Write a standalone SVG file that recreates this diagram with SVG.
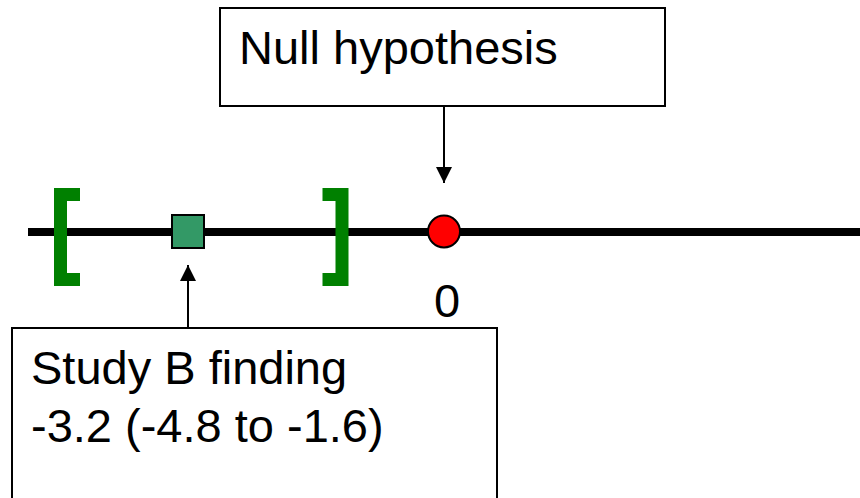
<svg xmlns="http://www.w3.org/2000/svg" width="860" height="498" viewBox="0 0 860 498">
  <defs>
    <style>
      .box { fill: #ffffff; stroke: #000000; stroke-width: 2; }
      .label { font-family: "Liberation Sans", Arial, sans-serif; font-size: 47px; fill: #000000; }
      .bracket { fill: none; stroke: #008000; stroke-width: 13; stroke-linecap: butt; }
      .conn { stroke: #000000; stroke-width: 2; fill: none; }
    </style>
    <marker id="arrowhead" viewBox="0 0 16 16" refX="16" refY="8" markerWidth="16" markerHeight="16" markerUnits="userSpaceOnUse" orient="auto">
      <path d="M0,0 L16,8 L0,16 Z" fill="#000000"/>
    </marker>
  </defs>
  <rect width="860" height="498" fill="#ffffff"/>

  <!-- number line -->
  <g id="axis">
    <line x1="28" y1="232" x2="860" y2="232" stroke="#000000" stroke-width="8"/>
  </g>

  <!-- confidence interval brackets -->
  <g id="ci-lower">
    <path class="bracket" d="M80,194.5 H60.5 V279.5 H80"/>
  </g>
  <g id="ci-upper">
    <path class="bracket" d="M322.5,194.5 H342 V279.5 H322.5"/>
  </g>

  <!-- point estimate -->
  <g id="estimate">
    <rect x="172" y="215" width="32" height="33" fill="#339966" stroke="#000000" stroke-width="2"/>
  </g>

  <!-- null value marker -->
  <g id="null-point">
    <circle cx="444" cy="231.5" r="16" fill="#ff0000" stroke="#000000" stroke-width="2"/>
    <text class="label" x="447" y="317" text-anchor="middle">0</text>
  </g>

  <!-- callout boxes -->
  <g id="null-hypothesis">
    <rect class="box" x="220" y="8" width="445" height="98"/>
    <text class="label" x="239" y="64">Null hypothesis</text>
  </g>
  <g id="study-b">
    <rect class="box" x="12" y="328" width="485" height="180"/>
    <text class="label" x="31" y="384">Study B finding</text>
    <text class="label" x="31" y="442">-3.2 (-4.8 to -1.6)</text>
  </g>

  <!-- connectors -->
  <g id="connectors">
    <line class="conn" x1="444" y1="106" x2="444" y2="183" marker-end="url(#arrowhead)"/>
    <line class="conn" x1="188" y1="328" x2="188" y2="265" marker-end="url(#arrowhead)"/>
  </g>
</svg>
